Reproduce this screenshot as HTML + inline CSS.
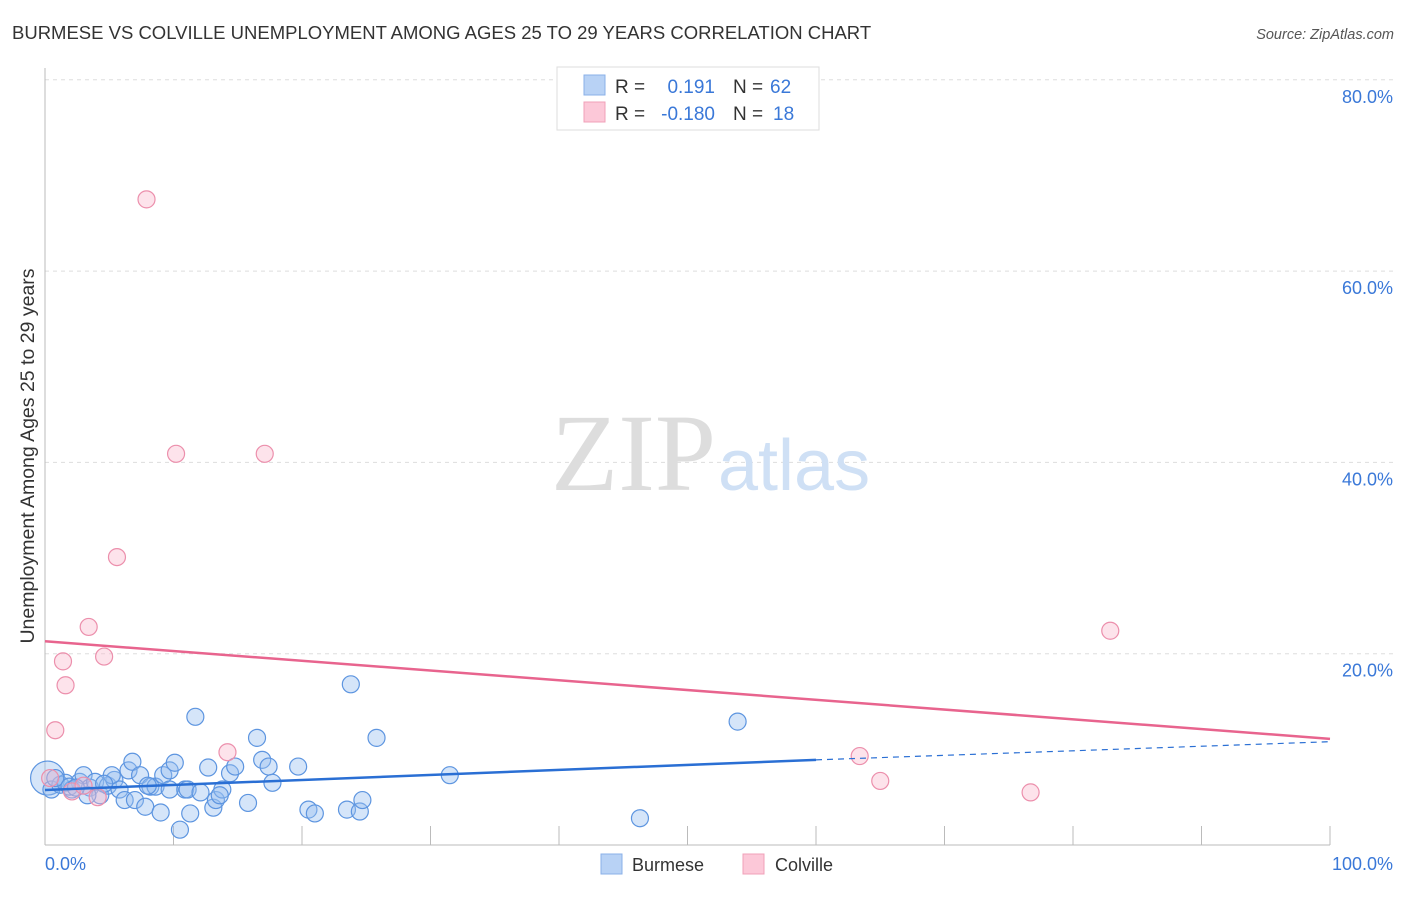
<!DOCTYPE html>
<html><head><meta charset="utf-8"><style>
body{margin:0;background:#fff;font-family:"Liberation Sans",sans-serif;}
svg text{font-family:"Liberation Sans",sans-serif;}
</style></head><body>
<svg width="1406" height="892" xmlns="http://www.w3.org/2000/svg">
<text x="12" y="39" font-size="18.5" fill="#333">BURMESE VS COLVILLE UNEMPLOYMENT AMONG AGES 25 TO 29 YEARS CORRELATION CHART</text>
<text x="1394" y="39" font-size="14.5" fill="#555" font-style="italic" text-anchor="end">Source: ZipAtlas.com</text>
<text transform="translate(34,456) rotate(-90)" font-size="19.5" fill="#333" text-anchor="middle">Unemployment Among Ages 25 to 29 years</text>
<g id="grid"></g>
<text x="716" y="490" font-size="110" fill="#ddd" text-anchor="end" style="font-family:'Liberation Serif',serif">ZIP</text>
<text x="718" y="490" font-size="72" fill="#cfe0f5">atlas</text>
<g id="points"></g>
<g id="trends"></g>
<g>
<rect x="557" y="67" width="262" height="63" fill="#fff" stroke="#ddd"/>
<rect x="584" y="75" width="21" height="20" fill="#b8d2f5" stroke="#8ab0e8"/>
<rect x="584" y="102" width="21" height="20" fill="#fcc8d8" stroke="#f0a0b8"/>
<text x="615" y="93" font-size="19" fill="#333">R =</text>
<text x="715" y="93" font-size="19" fill="#3a78d8" text-anchor="end">0.191</text>
<text x="733" y="93" font-size="19" fill="#333">N =</text>
<text x="770" y="93" font-size="19" fill="#3a78d8">62</text>
<text x="615" y="120" font-size="19" fill="#333">R =</text>
<text x="715" y="120" font-size="19" fill="#3a78d8" text-anchor="end">-0.180</text>
<text x="733" y="120" font-size="19" fill="#333">N =</text>
<text x="773" y="120" font-size="19" fill="#3a78d8">18</text>
</g>
<g>
<rect x="601" y="854" width="21" height="20" fill="#b8d2f5" stroke="#8ab0e8"/>
<text x="632" y="871" font-size="18" fill="#333">Burmese</text>
<rect x="743" y="854" width="21" height="20" fill="#fcc8d8" stroke="#f0a0b8"/>
<text x="775" y="871" font-size="18" fill="#333">Colville</text>
</g>
<text x="45" y="870" font-size="18" fill="#3a78d8">0.0%</text>
<text x="1393" y="870" font-size="18" fill="#3a78d8" text-anchor="end">100.0%</text>
</svg>
<script>
const yTicks=[20,40,60,80];
const yTickLabels=["20.0%","40.0%","60.0%","80.0%"];
const xTicks=[0,10,20,30,40,50,60,70,80,90,100];
const burmeseX=[0.2,0.5,1.2,1.6,2.1,2.7,3.0,3.5,3.9,4.3,4.9,5.4,5.8,6.2,6.5,6.8,7.0,7.4,7.8,8.2,8.6,9.0,9.2,9.7,10.1,10.5,10.9,11.1,11.3,11.7,12.1,12.7,13.1,13.3,13.8,14.4,14.8,15.8,16.5,16.9,17.4,17.7,19.7,20.5,21.0,23.5,23.8,24.5,24.7,25.8,31.5,46.3,53.9,0.8,1.9,3.3,5.2,9.7,13.6,2.4,4.6,8.0];
const burmeseY=[7.0,5.8,6.3,6.5,5.8,6.6,7.3,6.0,6.6,5.2,6.2,6.8,5.8,4.7,7.8,8.7,4.7,7.3,4.0,6.1,6.1,3.4,7.3,7.8,8.6,1.6,5.8,5.8,3.3,13.4,5.5,8.1,3.9,4.7,5.8,7.5,8.2,4.4,11.2,8.9,8.2,6.5,8.2,3.7,3.3,3.7,16.8,3.5,4.7,11.2,7.3,2.8,12.9,7.0,6.1,5.2,7.3,5.8,5.2,6.0,6.4,6.2];
const colvilleX=[7.9,10.2,17.1,5.6,3.4,1.4,4.6,1.6,0.8,14.2,63.4,65.0,76.7,82.9,4.1,2.1,0.4,3.0];
const colvilleY=[67.5,40.9,40.9,30.1,22.8,19.2,19.7,16.7,12.0,9.7,9.3,6.7,5.5,22.4,5.0,5.6,7.0,6.2];
const blueTrend=[[0,5.75],[60,8.9],[100,10.8]];
const pinkTrend=[[0,21.3],[100,11.1]];
const NS="http://www.w3.org/2000/svg";
const X=v=>45+v*12.85, Y=v=>845-v*9.565;
function mk(t,a,p){const e=document.createElementNS(NS,t);for(const k in a)e.setAttribute(k,a[k]);p.appendChild(e);return e;}
const g=document.getElementById('grid');
yTicks.forEach((t,i)=>{
 const l=mk('line',{x1:45,x2:1394,y1:Y(t),y2:Y(t),stroke:'#ddd','stroke-dasharray':'4,4'},g);
 
 
 const tx=mk('text',{x:1393,y:Y(t)+23,'font-size':18,fill:'#3a78d8','text-anchor':'end'},g);
 tx.textContent=yTickLabels[i];
 
 
});
const ax=mk('line',{x1:45,x2:45,y1:68,y2:845,stroke:'#bbb'},g);


const bx=mk('line',{x1:45,x2:1330,y1:845,y2:845,stroke:'#bbb'},g);


xTicks.forEach(t=>{const l=mk('line',{x1:X(t),x2:X(t),y1:826,y2:845,stroke:'#bbb'},g);
 
 });
const pg=document.getElementById('points');
burmeseX.forEach((x,i)=>{const c=mk('circle',{cx:X(x),cy:Y(burmeseY[i]),r:i==0?17:8.5,fill:'rgba(150,190,240,0.4)',stroke:'#5d95e0','stroke-width':1.2},pg);
 
 });
colvilleX.forEach((x,i)=>{const c=mk('circle',{cx:X(x),cy:Y(colvilleY[i]),r:8.5,fill:'rgba(250,185,205,0.4)',stroke:'#ec8fac','stroke-width':1.2},pg);
 
 });
const tg=document.getElementById('trends');
let b1=mk('line',{x1:X(blueTrend[0][0]),y1:Y(blueTrend[0][1]),x2:X(blueTrend[1][0]),y2:Y(blueTrend[1][1]),stroke:'#2a6fd4','stroke-width':2.5},tg);


let b2=mk('line',{x1:X(blueTrend[1][0]),y1:Y(blueTrend[1][1]),x2:X(blueTrend[2][0]),y2:Y(blueTrend[2][1]),stroke:'#2a6fd4','stroke-width':1.2,'stroke-dasharray':'6,5'},tg);


let p1=mk('line',{x1:X(pinkTrend[0][0]),y1:Y(pinkTrend[0][1]),x2:X(pinkTrend[1][0]),y2:Y(pinkTrend[1][1]),stroke:'#e8648e','stroke-width':2.5},tg);


</script>
</body></html>
